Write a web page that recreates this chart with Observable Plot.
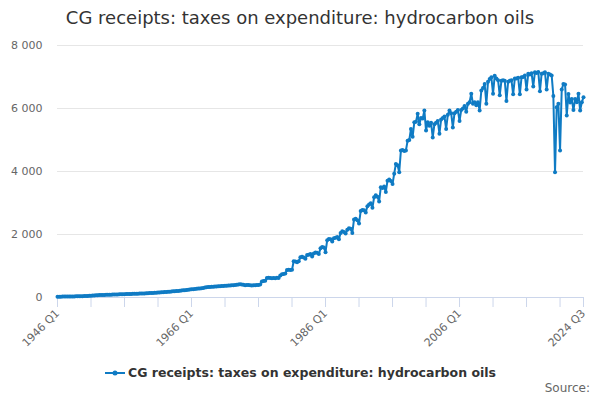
<!DOCTYPE html>
<html>
<head>
<meta charset="utf-8">
<script src="https://cdn.jsdelivr.net/npm/d3@7"></script>
<script src="https://cdn.jsdelivr.net/npm/@observablehq/plot@0.6"></script>
<style>
  body { margin: 0; background: #fff; }
  #wrap { position: relative; width: 600px; height: 400px; font-family: "DejaVu Sans", sans-serif; overflow: hidden; background: #fff; }
  #chart { position: absolute; top: 0; left: 0; }
  #title { position: absolute; top: 7px; left: 0; width: 600px; text-align: center; font-size: 18px; color: #333; z-index: 2; }
  #legend { position: absolute; top: 365px; left: 105px; font-size: 12.5px; font-weight: bold; color: #333; display: flex; align-items: center; white-space: nowrap; z-index: 2; }
  #legend svg { margin-right: 3px; }
  #source { position: absolute; top: 381px; right: 10px; font-size: 12px; color: #666; z-index: 2; }
</style>
</head>
<body>
<div id="wrap">
  <div id="chart"></div>
  <div id="title"></div>
  <div id="legend"></div>
  <div id="source">Source:</div>
</div>
<script>
const titleText = "CG receipts: taxes on expenditure: hydrocarbon oils";
const seriesName = "CG receipts: taxes on expenditure: hydrocarbon oils";
const startYear = 1946;
const quarterNames = ["Q1", "Q2", "Q3", "Q4"];
const xTickLabels = ["1946 Q1", "1966 Q1", "1986 Q1", "2006 Q1", "2024 Q3"];
const xMinorTickLabels = ["1946 Q1","1951 Q1","1956 Q1","1961 Q1","1966 Q1","1971 Q1","1976 Q1","1981 Q1","1986 Q1","1991 Q1","1996 Q1","2001 Q1","2006 Q1","2011 Q1","2016 Q1","2021 Q1","2024 Q3"];
const yTicks = [0, 2000, 4000, 6000, 8000];

// Quarterly values, 1946 Q1 .. 2024 Q3 (one row per year)
const values = [
  22, 24, 26, 28,        // 1946
  29, 30, 31, 32,        // 1947
  33, 34, 35, 36,        // 1948
  37, 39, 41, 43,        // 1949
  45, 48, 51, 54,        // 1950
  58, 62, 66, 70,        // 1951
  73, 76, 78, 80,        // 1952
  82, 84, 86, 88,        // 1953
  90, 92, 94, 96,        // 1954
  98, 100, 102, 104,     // 1955
  106, 108, 110, 112,    // 1956
  114, 116, 118, 120,    // 1957
  122, 124, 126, 128,    // 1958
  130, 133, 136, 139,    // 1959
  142, 146, 150, 154,    // 1960
  158, 162, 166, 170,    // 1961
  174, 178, 182, 186,    // 1962
  190, 195, 200, 205,    // 1963
  210, 216, 222, 228,    // 1964
  234, 240, 246, 252,    // 1965
  258, 264, 270, 276,    // 1966
  282, 288, 294, 300,    // 1967
  320, 326, 330, 334,    // 1968
  338, 342, 346, 350,    // 1969
  354, 358, 362, 366,    // 1970
  370, 374, 378, 382,    // 1971
  386, 392, 398, 404,    // 1972
  410, 420, 412, 405,    // 1973
  385, 400, 395, 390,    // 1974
  380, 385, 392, 400,    // 1975
  400, 410, 510, 520,    // 1976
  530, 620, 630, 620,    // 1977
  610, 620, 615, 625,    // 1978
  620, 700, 740, 750,    // 1979
  760, 870, 880, 870,    // 1980
  880, 1150, 1140, 1120, // 1981
  1150, 1280, 1290, 1270,// 1982
  1230, 1350, 1360, 1380,// 1983
  1300, 1400, 1430, 1420,// 1984
  1380, 1560, 1600, 1590,// 1985
  1440, 1820, 1860, 1850,// 1986
  1780, 1880, 1900, 1920,// 1987
  1850, 2050, 2100, 2080,// 1988
  2030, 2150, 2200, 2180,// 1989
  2050, 2480, 2500, 2450,// 1990
  2350, 2750, 2780, 2770,// 1991
  2700, 2900, 2950, 2990,// 1992
  2850, 3180, 3250, 3200,// 1993
  3050, 3500, 3480, 3520,// 1994
  3350, 3710, 3750, 3700,// 1995
  3600, 3930, 4240, 4200,// 1996
  3980, 4670, 4680, 4650,// 1997
  4670, 4980, 5000, 5350,// 1998
  5100, 5560, 5580, 5830,// 1999
  5500, 5700, 5680, 5940,// 2000
  5300, 5560, 5450, 5550,// 2001
  5080, 5500, 5550, 5600,// 2002
  5200, 5650, 5700, 5750,// 2003
  5350, 5800, 5940, 5850,// 2004
  5400, 5850, 5900, 5950,// 2005
  5600, 5950, 6000, 6080,// 2006
  5900, 6150, 6200, 6470,// 2007
  6150, 6200, 6100, 6200,// 2008
  5940, 6570, 6650, 6780,// 2009
  6150, 6850, 6940, 6990,// 2010
  6470, 7040, 6950, 6900,// 2011
  6420, 6880, 6900, 6880,// 2012
  6240, 6850, 6880, 6900,// 2013
  6450, 6950, 6950, 6980,// 2014
  6450, 6990, 7000, 7050,// 2015
  6600, 7100, 7080, 7120,// 2016
  6700, 7150, 7130, 7160,// 2017
  6550, 7100, 7120, 7150,// 2018
  6600, 7100, 7080, 7050,// 2019
  6400, 3980, 6040, 6150,// 2020
  4670, 6600, 6780, 6760,// 2021
  5780, 6460, 6190, 6300,// 2022
  5950, 6300, 6200, 6470,// 2023
  5940, 6200, 6360       // 2024
];

const color = "#0f7bc4";
const data = values.map((v, i) => ({
  i,
  label: `${startYear + Math.floor(i / 4)} ${quarterNames[i % 4]}`,
  value: v
}));
const labelToIndex = new Map(data.map(d => [d.label, d.i]));
const majorTicks = xTickLabels.map(l => labelToIndex.get(l));
const minorTicks = xMinorTickLabels.map(l => labelToIndex.get(l));
const fmt = v => d3.format(",")(v).replace(/,/g, " ");

document.getElementById("title").textContent = titleText;

const plot = Plot.plot({
  width: 600,
  height: 360,
  marginTop: 45,
  marginBottom: 63,
  marginLeft: 57,
  marginRight: 17,
  style: { fontFamily: "DejaVu Sans, sans-serif", fontSize: "11px", color: "#666", background: "transparent" },
  x: { type: "linear", domain: [0, values.length - 1], axis: null },
  y: { domain: [0, 8000], axis: null },
  marks: [
    Plot.gridY(yTicks, { stroke: "#e6e6e6", strokeOpacity: 1, strokeWidth: 1 }),
    Plot.axisY(yTicks, { tickSize: 0, tickPadding: 15, tickFormat: fmt, fill: "#666", fontSize: 11, label: null }),
    Plot.axisX(minorTicks, { tickSize: 10, tickFormat: () => "", stroke: "#ccd6eb", strokeOpacity: 1, label: null }),
    Plot.ruleY([0], { stroke: "#ccd6eb", strokeWidth: 1 }),
    Plot.axisX(majorTicks, { tickSize: 0, tickPadding: 14, tickRotate: -45, tickFormat: i => data[i].label, fill: "#666", fontSize: 11, label: null }),
    Plot.line(data, { x: "i", y: "value", stroke: color, strokeWidth: 2 }),
    Plot.dot(data, { x: "i", y: "value", fill: color, r: 2, stroke: null })
  ]
});
document.getElementById("chart").appendChild(plot);

document.getElementById("legend").innerHTML =
  `<svg width="20" height="10"><line x1="0" y1="5" x2="20" y2="5" stroke="${color}" stroke-width="2"/><circle cx="10" cy="5" r="2.5" fill="${color}"/></svg><span></span>`;
document.querySelector("#legend span").textContent = seriesName;
</script>
</body>
</html>
